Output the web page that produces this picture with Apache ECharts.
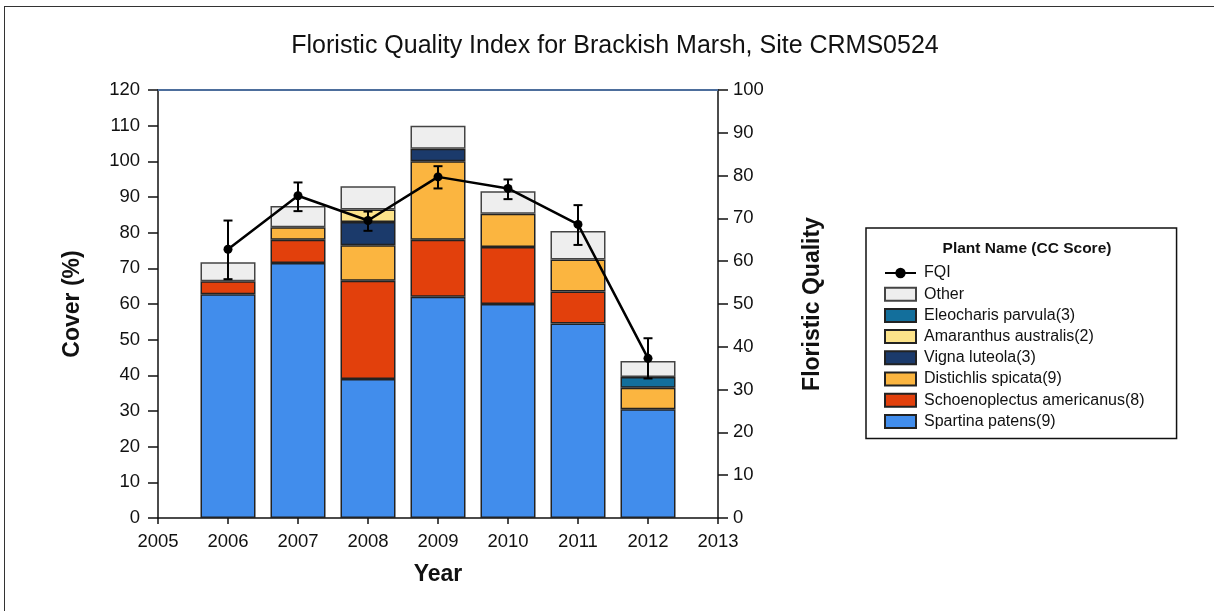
<!DOCTYPE html>
<html>
<head>
<meta charset="utf-8">
<script src="https://cdn.jsdelivr.net/npm/echarts@6/dist/echarts.min.js"></script>
<style>
html,body{margin:0;padding:0;background:#fff;}
#chart{position:absolute;left:0;top:0;width:1214px;height:611px;}
#frame{position:absolute;left:4px;top:6px;width:1230px;height:620px;border-left:1px solid #333;border-top:1px solid #333;pointer-events:none;}
</style>
</head>
<body>
<div id="chart"></div>
<div id="frame"></div>
<script>
const axisYears  = ['2005', '2006', '2007', '2008', '2009', '2010', '2011', '2012', '2013'];
const years      = ['2006', '2007', '2008', '2009', '2010', '2011', '2012'];
const spartina   = [62.7, 71.5, 39, 62, 60, 54.5, 30.5];
const schoeno    = [3.7, 6.5, 27.5, 16, 16, 9, null];
const distichlis = [null, 3.5, 10, 22, 9.3, 9, 6];
const vigna      = [null, null, 6.5, 3.5, null, null, null];
const amaranthus = [null, null, 3.5, null, null, null, null];
const eleocharis = [null, null, null, null, null, null, 3];
const other      = [5.3, 6, 6.5, 6.5, 6.3, 8, 4.5];
const fqi     = [62.8, 75.3, 69.5, 79.7, 77, 68.6, 37.3];
const fqiLow  = [55.8, 71.7, 67.1, 77, 74.5, 63.8, 32.6];
const fqiHigh = [69.5, 78.4, 71.6, 82.2, 79.1, 73.1, 42];
const coverTicks = {min: 0, max: 120, interval: 10};
const fqiTicks = {min: 0, max: 100, interval: 10};
const legendOrder = ['FQI', 'Other', 'Eleocharis parvula(3)', 'Amaranthus australis(2)', 'Vigna luteola(3)',
                     'Distichlis spicata(9)', 'Schoenoplectus americanus(8)', 'Spartina patens(9)'];

const FONT = 'Liberation Sans, Arial, sans-serif';
const border = '#222';

// place a per-year array onto the full axis category list
function onAxis(vals) {
  return axisYears.map(c => {
    const i = years.indexOf(c);
    return (i < 0 || vals[i] == null) ? '-' : vals[i];
  });
}

function barSeries(name, vals, color, bcolor) {
  return {
    name: name, type: 'bar', stack: 'cover', barWidth: 55,
    xAxisIndex: 0, yAxisIndex: 0,
    itemStyle: {color: color, borderColor: bcolor || border, borderWidth: 1.5},
    emphasis: {disabled: true},
    data: onAxis(vals)
  };
}

const chart = echarts.init(document.getElementById('chart'), null, {renderer: 'canvas'});
const option = {
  animation: false,
  backgroundColor: '#fff',
  textStyle: {fontFamily: FONT},
  title: [
    {text: 'Floristic Quality Index for Brackish Marsh, Site CRMS0524', left: 610, textAlign: 'center', top: 29,
     textStyle: {fontFamily: FONT, fontSize: 25, fontWeight: 'normal', color: '#111'}},
    {text: 'Plant Name (CC Score)', left: 1022, textAlign: 'center', top: 236,
     textStyle: {fontFamily: FONT, fontSize: 15.5, fontWeight: 'bold', color: '#111'}}
  ],
  grid: {left: 158, right: 496, top: 90, bottom: 93, containLabel: false},
  legend: {
    orient: 'vertical', left: 866, top: 228,
    padding: [37, 32, 9, 18],
    borderColor: '#111', borderWidth: 1.5,
    itemWidth: 31, itemHeight: 13, itemGap: 5.2,
    textStyle: {fontFamily: FONT, fontSize: 16, color: '#111', padding: [0, 0, 0, 3]},
    data: legendOrder.map(n => n === 'FQI' ? {name: n} : {name: n, icon: 'rect'})
  },
  xAxis: [
    {type: 'category', data: axisYears, boundaryGap: false,
     name: 'Year', nameLocation: 'middle', nameGap: 45,
     nameTextStyle: {fontFamily: FONT, fontSize: 23, fontWeight: 'bold', color: '#111'},
     axisLine: {show: true, onZero: false, lineStyle: {color: '#111', width: 1.5}},
     axisTick: {show: true, length: 6, lineStyle: {color: '#111', width: 1.5}},
     axisLabel: {margin: 14, fontSize: 18.5, color: '#111', fontFamily: FONT, interval: 0},
     splitLine: {show: false}},
    {type: 'category', data: axisYears, boundaryGap: false, position: 'top',
     axisLine: {show: true, onZero: false, lineStyle: {color: '#4d6e9c', width: 2}},
     axisTick: {show: false}, axisLabel: {show: false}, splitLine: {show: false}}
  ],
  yAxis: [
    {type: 'value', min: coverTicks.min, max: coverTicks.max, interval: coverTicks.interval,
     name: 'Cover (%)', nameLocation: 'middle', nameGap: 74, nameRotate: 90,
     nameTextStyle: {fontFamily: FONT, fontSize: 23, fontWeight: 'bold', color: '#111'},
     axisLine: {show: true, onZero: false, lineStyle: {color: '#111', width: 1.5}},
     axisTick: {show: true, length: 10, lineStyle: {color: '#111', width: 1.5}},
     axisLabel: {margin: 18, fontSize: 18.5, color: '#111', fontFamily: FONT},
     splitLine: {show: false}},
    {type: 'value', position: 'right', min: fqiTicks.min, max: fqiTicks.max, interval: fqiTicks.interval,
     name: 'Floristic Quality', nameLocation: 'middle', nameGap: 83, nameRotate: 90,
     nameTextStyle: {fontFamily: FONT, fontSize: 23, fontWeight: 'bold', color: '#111'},
     axisLine: {show: true, onZero: false, lineStyle: {color: '#111', width: 1.5}},
     axisTick: {show: true, length: 10, lineStyle: {color: '#111', width: 1.5}},
     axisLabel: {margin: 15, fontSize: 18.5, color: '#111', fontFamily: FONT},
     splitLine: {show: false}}
  ],
  series: [
    barSeries('Spartina patens(9)', spartina, '#418DEC'),
    barSeries('Schoenoplectus americanus(8)', schoeno, '#E2400C'),
    barSeries('Distichlis spicata(9)', distichlis, '#FBB540'),
    barSeries('Vigna luteola(3)', vigna, '#1B3A6B'),
    barSeries('Amaranthus australis(2)', amaranthus, '#FCE38A'),
    barSeries('Eleocharis parvula(3)', eleocharis, '#136F9C'),
    barSeries('Other', other, '#EEEEEE', '#444'),
    {
      name: 'FQI', type: 'line', xAxisIndex: 0, yAxisIndex: 1, z: 5,
      symbol: 'circle', symbolSize: 9,
      lineStyle: {color: '#000', width: 2.5},
      itemStyle: {color: '#000'},
      emphasis: {disabled: true},
      data: onAxis(fqi)
    },
    {
      name: 'FQI error', type: 'custom', xAxisIndex: 0, yAxisIndex: 1, z: 6,
      encode: {x: 0, y: [1, 2]},
      data: years.map((y, i) => [axisYears.indexOf(y), fqiLow[i], fqiHigh[i]]),
      renderItem: function (params, api) {
        const lo = api.coord([api.value(0), api.value(1)]);
        const hi = api.coord([api.value(0), api.value(2)]);
        const hw = 4.5;
        const st = {stroke: '#000', lineWidth: 2};
        return {type: 'group', children: [
          {type: 'line', shape: {x1: lo[0], y1: lo[1], x2: hi[0], y2: hi[1]}, style: st},
          {type: 'line', shape: {x1: lo[0] - hw, y1: lo[1], x2: lo[0] + hw, y2: lo[1]}, style: st},
          {type: 'line', shape: {x1: hi[0] - hw, y1: hi[1], x2: hi[0] + hw, y2: hi[1]}, style: st}
        ]};
      }
    }
  ]
};
chart.setOption(option);
</script>
</body>
</html>
